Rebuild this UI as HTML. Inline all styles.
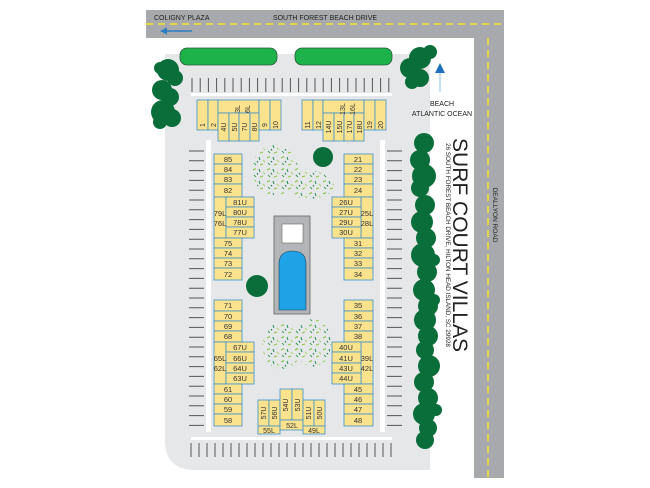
<!DOCTYPE html>
<html><head><meta charset="utf-8"><style>
html,body{margin:0;padding:0;background:#fff;width:650px;height:488px;overflow:hidden}
svg{display:block}
.u{fill:#fbe38e;stroke:#3d8fc9;stroke-width:0.8}
.t{font-family:"Liberation Sans",sans-serif;font-size:7.5px;fill:#333;text-anchor:middle}
.tr{font-family:"Liberation Sans",sans-serif;font-size:7px;fill:#333;text-anchor:middle}
.tk{stroke:#555;stroke-width:1}
.tree{fill:#0a6e3a}
</style></head><body>
<svg width="650" height="488" viewBox="0 0 650 488" xmlns="http://www.w3.org/2000/svg">
<defs>
<pattern id="sh" width="14" height="12" patternUnits="userSpaceOnUse">
<line x1="1" y1="2" x2="4" y2="0.5" stroke="#7fc241" stroke-width="1"/>
<line x1="7" y1="1" x2="8" y2="4" stroke="#1f8f55" stroke-width="1"/>
<line x1="11" y1="4" x2="13" y2="6" stroke="#a6d46a" stroke-width="1"/>
<line x1="2" y1="7" x2="4" y2="9" stroke="#3aa35a" stroke-width="1"/>
<line x1="8" y1="9" x2="11" y2="8" stroke="#8cc63f" stroke-width="1"/>
<line x1="5" y1="5" x2="6" y2="6.5" stroke="#0f7a45" stroke-width="1"/>
</pattern>
</defs>
<!-- roads -->
<rect x="146" y="10" width="358" height="28" fill="#a7a9ac"/>
<rect x="474" y="10" width="30" height="468" fill="#a7a9ac"/>
<line x1="146" y1="24" x2="504" y2="24" stroke="#f5e52a" stroke-width="1.5" stroke-dasharray="7,5"/>
<line x1="488" y1="38" x2="488" y2="478" stroke="#f5e52a" stroke-width="1.5" stroke-dasharray="7,5"/>
<text x="154" y="20" font-family="Liberation Sans,sans-serif" font-size="7" fill="#222">COLIGNY PLAZA</text>
<text x="325" y="20" font-family="Liberation Sans,sans-serif" font-size="7" fill="#222" text-anchor="middle">SOUTH FOREST BEACH DRIVE</text>
<line x1="164" y1="31" x2="192" y2="31" stroke="#2b7cc1" stroke-width="1.5"/>
<polygon points="160,31 167,27.5 167,34.5" fill="#2b7cc1"/>
<text transform="translate(493,215) rotate(90)" font-family="Liberation Sans,sans-serif" font-size="6.5" fill="#222" text-anchor="middle">DEALLYON ROAD</text>
<!-- lot -->
<path d="M165,54 H430 V470 H195 Q165,470 165,440 Z" fill="#e6e7e8"/>
<!-- hedges -->
<rect x="180" y="48" width="97" height="17" rx="7" fill="#1db34a" stroke="#2a5a3a" stroke-width="0.8"/>
<rect x="295" y="48" width="97" height="17" rx="7" fill="#1db34a" stroke="#2a5a3a" stroke-width="0.8"/>
<!-- white lanes -->
<rect x="191" y="93" width="201" height="3" fill="#fff"/>
<rect x="191" y="437" width="201" height="3" fill="#fff"/>
<rect x="206" y="140" width="5" height="292" fill="#fff"/>
<rect x="380" y="140" width="5" height="292" fill="#fff"/>
<!-- top ticks -->
<g class="tk">
<path d="M192,78v14M200.2,78v14M208.4,78v14M216.6,78v14M224.8,78v14M233,78v14M241.2,78v14M249.4,78v14M257.6,78v14M265.8,78v14M274,78v14M282.2,78v14M290.4,78v14M298.6,78v14M306.8,78v14M315,78v14M323.2,78v14M331.4,78v14M339.6,78v14M347.8,78v14M356,78v14M364.2,78v14M372.4,78v14M380.6,78v14M388.8,78v14"/>
<path d="M191,443v14M199,443v14M207,443v14M215,443v14M223,443v14M231,443v14M239,443v14M247,443v14M255,443v14M263,443v14M271,443v14M279,443v14M287,443v14M295,443v14M303,443v14M311,443v14M319,443v14M327,443v14M335,443v14M343,443v14M351,443v14M359,443v14M367,443v14M375,443v14M383,443v14M391,443v14"/>
<path d="M189,151h15M189,160.8h15M189,170.6h15M189,180.4h15M189,190.2h15M189,200h15M189,209.8h15M189,219.6h15M189,229.4h15M189,239.2h15M189,249h15M189,258.8h15M189,268.6h15M189,278.4h15M189,288.2h15M189,298h15M189,307.8h15M189,317.6h15M189,327.4h15M189,337.2h15M189,347h15M189,356.8h15M189,366.6h15M189,376.4h15M189,386.2h15M189,396h15M189,405.8h15M189,415.6h15M189,425.4h15"/>
<path d="M387,151h15M387,160.8h15M387,170.6h15M387,180.4h15M387,190.2h15M387,200h15M387,209.8h15M387,219.6h15M387,229.4h15M387,239.2h15M387,249h15M387,258.8h15M387,268.6h15M387,278.4h15M387,288.2h15M387,298h15M387,307.8h15M387,317.6h15M387,327.4h15M387,337.2h15M387,347h15M387,356.8h15M387,366.6h15M387,376.4h15M387,386.2h15M387,396h15M387,405.8h15M387,415.6h15M387,425.4h15"/>
</g>
<!-- shrubs -->
<ellipse cx="275" cy="170" rx="23" ry="25" fill="url(#sh)"/>
<ellipse cx="310" cy="185" rx="24" ry="14" fill="url(#sh)"/>
<ellipse cx="282" cy="345" rx="20" ry="24" fill="url(#sh)"/>
<ellipse cx="313" cy="343" rx="18" ry="24" fill="url(#sh)"/>
<!-- pool -->
<rect x="274" y="216" width="36" height="98" fill="#b3b5b8" stroke="#666" stroke-width="0.8"/>
<rect x="282" y="224" width="21" height="19" fill="#fff" stroke="#666" stroke-width="0.6"/>
<path d="M279,310 V264 Q279,251 292.5,251 Q306,251 306,264 V310 Z" fill="#1fa3e6" stroke="#245" stroke-width="0.6"/>
<!-- trees -->
<g class="tree">
<circle cx="168" cy="70" r="11"/><circle cx="160" cy="68" r="6"/><circle cx="175" cy="78" r="8"/>
<circle cx="162" cy="90" r="10"/><circle cx="170" cy="97" r="9"/>
<circle cx="163" cy="112" r="12"/><circle cx="172" cy="118" r="9"/><circle cx="160" cy="122" r="7"/>
<circle cx="420" cy="58" r="11"/><circle cx="430" cy="52" r="7"/><circle cx="410" cy="68" r="10"/><circle cx="420" cy="78" r="9"/><circle cx="412" cy="82" r="7"/>
<circle cx="323" cy="157" r="10"/>
<circle cx="257" cy="286" r="11"/>
<circle cx="424" cy="143" r="10"/><circle cx="420" cy="160" r="10"/><circle cx="424" cy="176" r="12"/><circle cx="420" cy="188" r="9"/>
<circle cx="425" cy="205" r="10"/><circle cx="422" cy="222" r="11"/><circle cx="426" cy="238" r="10"/><circle cx="423" cy="255" r="12"/>
<circle cx="427" cy="272" r="10"/><circle cx="424" cy="290" r="11"/><circle cx="428" cy="306" r="10"/><circle cx="425" cy="320" r="11"/>
<circle cx="428" cy="336" r="10"/><circle cx="425" cy="350" r="9"/><circle cx="429" cy="366" r="11"/><circle cx="424" cy="382" r="10"/>
<circle cx="428" cy="398" r="10"/><circle cx="424" cy="414" r="11"/><circle cx="428" cy="428" r="9"/><circle cx="425" cy="440" r="9"/>
<circle cx="434" cy="300" r="6"/><circle cx="436" cy="410" r="6"/><circle cx="434" cy="260" r="6"/>
</g>
<!-- beach -->
<line x1="440" y1="72" x2="440" y2="92" stroke="#9cc8ea" stroke-width="1.2"/>
<polygon points="440,63 435,73 445,73" fill="#1f70c1"/>
<text x="442" y="106" font-family="Liberation Sans,sans-serif" font-size="7" fill="#222" text-anchor="middle">BEACH</text>
<text x="442" y="116" font-family="Liberation Sans,sans-serif" font-size="7" fill="#222" text-anchor="middle">ATLANTIC OCEAN</text>
<!-- title -->
<text transform="translate(453,245) rotate(90)" font-family="Liberation Sans,sans-serif" font-size="21" fill="#222" text-anchor="middle">SURF COURT VILLAS</text>
<text transform="translate(446,245) rotate(90)" font-family="Liberation Sans,sans-serif" font-size="6.3" fill="#222" text-anchor="middle">26 SOUTH FOREST BEACH DRIVE, HILTON HEAD ISLAND, SC 29928</text>

<!-- top-left building -->
<rect class="u" x="197" y="100" width="11" height="30"/><rect class="u" x="208" y="100" width="10" height="30"/>
<rect class="u" x="218" y="100" width="41" height="13"/>
<rect class="u" x="218" y="113" width="11" height="28"/><rect class="u" x="229" y="113" width="10" height="28"/><rect class="u" x="239" y="113" width="11" height="28"/><rect class="u" x="250" y="113" width="9" height="28"/>
<rect class="u" x="259" y="100" width="11" height="30"/><rect class="u" x="270" y="100" width="11" height="30"/>
<!-- top-right building -->
<rect class="u" x="302" y="100" width="11" height="30"/><rect class="u" x="313" y="100" width="10" height="30"/>
<rect class="u" x="323" y="100" width="41" height="13"/>
<rect class="u" x="323" y="113" width="11" height="28"/><rect class="u" x="334" y="113" width="10" height="28"/><rect class="u" x="344" y="113" width="10" height="28"/><rect class="u" x="354" y="113" width="10" height="28"/>
<rect class="u" x="364" y="100" width="11" height="30"/><rect class="u" x="375" y="100" width="11" height="30"/>
<g class="tr">
<text transform="translate(205,125) rotate(-90)">1</text><text transform="translate(216,125) rotate(-90)">2</text>
<text transform="translate(240,109) rotate(-90)">3L</text><text transform="translate(250,109) rotate(-90)">6L</text>
<text transform="translate(226,127) rotate(-90)">4U</text><text transform="translate(237,127) rotate(-90)">5U</text><text transform="translate(247,127) rotate(-90)">7U</text><text transform="translate(257,127) rotate(-90)">8U</text>
<text transform="translate(267,125) rotate(-90)">9</text><text transform="translate(278,125) rotate(-90)">10</text>
<text transform="translate(310,125) rotate(-90)">11</text><text transform="translate(321,125) rotate(-90)">12</text>
<text transform="translate(345,109) rotate(-90)">13L</text><text transform="translate(355,109) rotate(-90)">16L</text>
<text transform="translate(331,127) rotate(-90)">14U</text><text transform="translate(342,127) rotate(-90)">15U</text><text transform="translate(352,127) rotate(-90)">17U</text><text transform="translate(362,127) rotate(-90)">18U</text>
<text transform="translate(372,125) rotate(-90)">19</text><text transform="translate(383,125) rotate(-90)">20</text>
</g>

<!-- left upper column -->
<rect class="u" x="214" y="154" width="28" height="10"/><rect class="u" x="214" y="164" width="28" height="10"/><rect class="u" x="214" y="174" width="28" height="10"/><rect class="u" x="214" y="184" width="28" height="13"/>
<rect class="u" x="214" y="197" width="12" height="41"/>
<rect class="u" x="226" y="197" width="28" height="10"/><rect class="u" x="226" y="207" width="28" height="10"/><rect class="u" x="226" y="217" width="28" height="10"/><rect class="u" x="226" y="227" width="28" height="11"/>
<rect class="u" x="214" y="238" width="28" height="10"/><rect class="u" x="214" y="248" width="28" height="10"/><rect class="u" x="214" y="258" width="28" height="10"/><rect class="u" x="214" y="268" width="28" height="12"/>
<g class="t">
<text x="228" y="162">85</text><text x="228" y="172">84</text><text x="228" y="182">83</text><text x="228" y="193">82</text>
<text x="220" y="216">79L</text><text x="220" y="226">76L</text>
<text x="240" y="205">81U</text><text x="240" y="215">80U</text><text x="240" y="225">78U</text><text x="240" y="235">77U</text>
<text x="228" y="246">75</text><text x="228" y="256">74</text><text x="228" y="266">73</text><text x="228" y="277">72</text>
</g>
<!-- right upper column -->
<rect class="u" x="344" y="154" width="29" height="10"/><rect class="u" x="344" y="164" width="29" height="10"/><rect class="u" x="344" y="174" width="29" height="10"/><rect class="u" x="344" y="184" width="29" height="13"/>
<rect class="u" x="361" y="197" width="12" height="41"/>
<rect class="u" x="332" y="197" width="29" height="10"/><rect class="u" x="332" y="207" width="29" height="10"/><rect class="u" x="332" y="217" width="29" height="10"/><rect class="u" x="332" y="227" width="29" height="11"/>
<rect class="u" x="344" y="238" width="29" height="10"/><rect class="u" x="344" y="248" width="29" height="10"/><rect class="u" x="344" y="258" width="29" height="10"/><rect class="u" x="344" y="268" width="29" height="12"/>
<g class="t">
<text x="358" y="162">21</text><text x="358" y="172">22</text><text x="358" y="182">23</text><text x="358" y="193">24</text>
<text x="367" y="216">25L</text><text x="367" y="226">28L</text>
<text x="346" y="205">26U</text><text x="346" y="215">27U</text><text x="346" y="225">29U</text><text x="346" y="235">30U</text>
<text x="358" y="246">31</text><text x="358" y="256">32</text><text x="358" y="266">33</text><text x="358" y="277">34</text>
</g>

<!-- left lower column -->
<rect class="u" x="214" y="300" width="28" height="11"/><rect class="u" x="214" y="311" width="28" height="10"/><rect class="u" x="214" y="321" width="28" height="10"/><rect class="u" x="214" y="331" width="28" height="11"/>
<rect class="u" x="214" y="342" width="12" height="42"/>
<rect class="u" x="226" y="342" width="28" height="10"/><rect class="u" x="226" y="352" width="28" height="11"/><rect class="u" x="226" y="363" width="28" height="10"/><rect class="u" x="226" y="373" width="28" height="11"/>
<rect class="u" x="214" y="384" width="28" height="10"/><rect class="u" x="214" y="394" width="28" height="10"/><rect class="u" x="214" y="404" width="28" height="10"/><rect class="u" x="214" y="414" width="28" height="12"/>
<g class="t">
<text x="228" y="308">71</text><text x="228" y="319">70</text><text x="228" y="329">69</text><text x="228" y="339">68</text>
<text x="220" y="361">65L</text><text x="220" y="371">62L</text>
<text x="240" y="350">67U</text><text x="240" y="361">66U</text><text x="240" y="371">64U</text><text x="240" y="381">63U</text>
<text x="228" y="392">61</text><text x="228" y="402">60</text><text x="228" y="412">59</text><text x="228" y="423">58</text>
</g>
<!-- right lower column -->
<rect class="u" x="344" y="300" width="29" height="11"/><rect class="u" x="344" y="311" width="29" height="10"/><rect class="u" x="344" y="321" width="29" height="10"/><rect class="u" x="344" y="331" width="29" height="11"/>
<rect class="u" x="361" y="342" width="12" height="42"/>
<rect class="u" x="332" y="342" width="29" height="10"/><rect class="u" x="332" y="352" width="29" height="11"/><rect class="u" x="332" y="363" width="29" height="10"/><rect class="u" x="332" y="373" width="29" height="11"/>
<rect class="u" x="344" y="384" width="29" height="10"/><rect class="u" x="344" y="394" width="29" height="10"/><rect class="u" x="344" y="404" width="29" height="10"/><rect class="u" x="344" y="414" width="29" height="12"/>
<g class="t">
<text x="358" y="308">35</text><text x="358" y="319">36</text><text x="358" y="329">37</text><text x="358" y="339">38</text>
<text x="367" y="361">39L</text><text x="367" y="371">42L</text>
<text x="346" y="350">40U</text><text x="346" y="361">41U</text><text x="346" y="371">43U</text><text x="346" y="381">44U</text>
<text x="358" y="392">45</text><text x="358" y="402">46</text><text x="358" y="412">47</text><text x="358" y="423">48</text>
</g>

<!-- bottom middle -->
<rect class="u" x="258" y="400" width="11" height="26"/><rect class="u" x="269" y="400" width="11" height="26"/><rect class="u" x="258" y="426" width="22" height="8"/>
<rect class="u" x="280" y="389" width="12" height="31"/><rect class="u" x="292" y="389" width="11" height="31"/><rect class="u" x="280" y="420" width="23" height="10"/>
<rect class="u" x="303" y="400" width="11" height="26"/><rect class="u" x="314" y="400" width="11" height="26"/><rect class="u" x="303" y="426" width="22" height="8"/>
<g class="tr">
<text transform="translate(266,413) rotate(-90)">57U</text><text transform="translate(277,413) rotate(-90)">56U</text>
<text transform="translate(288,405) rotate(-90)">54U</text><text transform="translate(300,405) rotate(-90)">53U</text>
<text transform="translate(311,413) rotate(-90)">51U</text><text transform="translate(322,413) rotate(-90)">50U</text>
<text x="269" y="433">55L</text><text x="292" y="428">52L</text><text x="314" y="433">49L</text>
</g>
</svg>
</body></html>
